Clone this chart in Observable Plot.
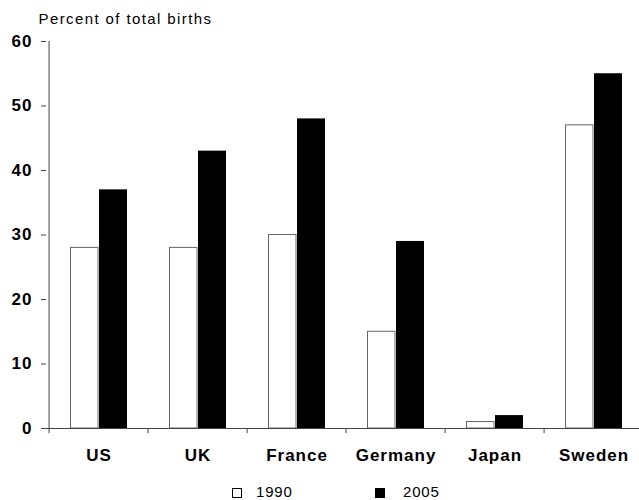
<!DOCTYPE html>
<html>
<head>
<meta charset="utf-8">
<script src="https://cdn.jsdelivr.net/npm/d3@7"></script>
<script src="https://cdn.jsdelivr.net/npm/@observablehq/plot@0.6"></script>
<style>
  html, body { margin: 0; padding: 0; background: #fff; }
  #wrap { position: relative; width: 639px; height: 500px; overflow: hidden; font-family: "Liberation Sans", Arial, sans-serif; }
  #chart svg text { letter-spacing: 1px; }
  #chart svg .ttl text { letter-spacing: 1.4px; }
  #legend { position: absolute; left: 0; top: 475px; width: 639px; height: 25px; }
  .item { position: absolute; top: 0; height: 25px; font-size: 15px; letter-spacing: 0.8px; color: #000; }
  .sw { position: absolute; top: 13px; width: 10px; height: 10px; box-sizing: border-box; border: 1px solid #000; }
  .lab { position: absolute; top: 8px; white-space: nowrap; line-height: 17px; }
</style>
</head>
<body>
<div id="wrap">
  <div id="chart"></div>
  <div id="legend"></div>
</div>
<script>
const countries = ["US", "UK", "France", "Germany", "Japan", "Sweden"];
const values1990 = [28, 28, 30, 15, 1, 47];
const values2005 = [37, 43, 48, 29, 2, 55];
const yTicks = [0, 10, 20, 30, 40, 50, 60];
const seriesNames = ["1990", "2005"];
const seriesFill = ["#ffffff", "#000000"];
const yTitle = "Percent of total births";

const d1990 = countries.map((c, i) => ({country: c, value: values1990[i]}));
const d2005 = countries.map((c, i) => ({country: c, value: values2005[i]}));

const xRange = [46, 645];
const bw = (xRange[1] - xRange[0]) / countries.length;

const chart = Plot.plot({
  width: 639,
  height: 475,
  marginLeft: 46,
  marginRight: 0,
  marginTop: 41,
  marginBottom: 47,
  style: {fontFamily: "'Liberation Sans', Arial, sans-serif", fontSize: "17px", fontWeight: "bold", color: "#000", background: "#fff"},
  x: {domain: countries, range: xRange, padding: 0, axis: null},
  y: {domain: [0, 60], range: [428, 41], axis: null},
  marks: [
    Plot.barY(d1990, {x: "country", y: "value", fill: seriesFill[0], stroke: "#666", strokeWidth: 1, insetLeft: 21.5, insetRight: 50}),
    Plot.barY(d2005, {x: "country", y: "value", fill: seriesFill[1], insetLeft: 50, insetRight: 21}),
    Plot.ruleY([0], {stroke: "#444"}),
    Plot.ruleX([countries[0]], {y1: 0, y2: 60, dx: -bw / 2, stroke: "#444"}),
    Plot.ruleX(countries, {y1: 0, y2: -0.8, dx: -bw / 2, stroke: "#444"}),
    Plot.axisY({ticks: yTicks, tickSize: 5, tickPadding: 9, stroke: "#444", fontSize: 17, fontWeight: "bold", label: null}),
    Plot.axisX({tickSize: 0, tickPadding: 20, fontSize: 17, fontWeight: "bold", label: null}),
    Plot.text([yTitle], {frameAnchor: "top-left", text: d => d, textAnchor: "start", lineAnchor: "bottom", dx: -8, dy: -18, fontSize: 15, fontWeight: "normal", className: "ttl"})
  ]
});
document.getElementById("chart").appendChild(chart);

const legendPos = [232, 375];
const labelPos = [256, 403];
const legend = document.getElementById("legend");
seriesNames.forEach((name, i) => {
  const item = document.createElement("div");
  item.className = "item";
  item.style.left = "0px";
  const sw = document.createElement("div");
  sw.className = "sw";
  sw.style.left = legendPos[i] + "px";
  sw.style.background = seriesFill[i];
  const lab = document.createElement("div");
  lab.className = "lab";
  lab.style.left = labelPos[i] + "px";
  lab.textContent = name;
  item.appendChild(sw);
  item.appendChild(lab);
  legend.appendChild(item);
});
</script>
</body>
</html>
